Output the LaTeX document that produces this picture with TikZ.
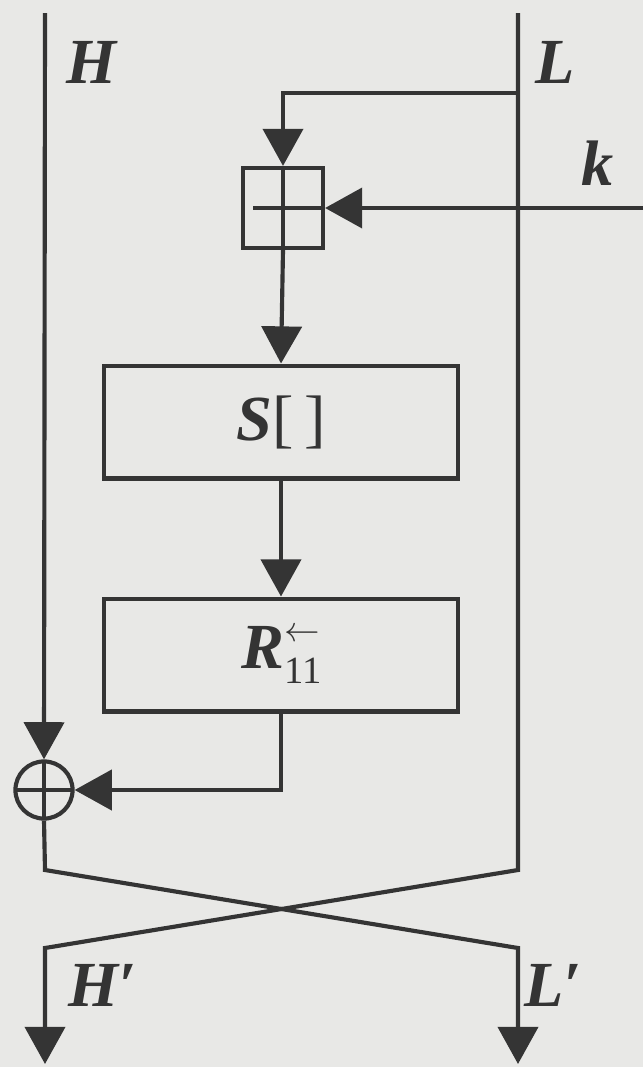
\documentclass[tikz,border=0pt]{standalone}
\usepackage{fontspec}
\setmainfont{Liberation Serif}
\usetikzlibrary{arrows.meta,positioning}

\definecolor{paper}{RGB}{232,232,230}
\definecolor{ink}{RGB}{52,52,52}

\newcommand{\bigfont}{\fontsize{45}{48}\selectfont}
\newcommand{\smallfont}{\fontsize{27}{28}\selectfont}

\tikzset{
  blk/.style={draw, minimum width=248pt, minimum height=79pt, inner sep=0pt, font=\bigfont},
  addbox/.style={draw, minimum size=56pt, inner sep=0pt,
    path picture={\draw (path picture bounding box.north) -- (path picture bounding box.south)
      ([xshift=7pt]path picture bounding box.west) -- (path picture bounding box.east);}},
  xorc/.style={draw, circle, minimum size=40pt, inner sep=0pt,
    path picture={\draw (path picture bounding box.north) -- (path picture bounding box.south)
      (path picture bounding box.west) -- (path picture bounding box.east);}},
  lbl/.style={font=\bigfont\bfseries\itshape}
}

\begin{document}
\begin{tikzpicture}[x=0.7pt, y=-0.7pt, >={Triangle[length=26pt,width=28pt]},
  line width=2.9pt, draw=ink, text=ink]

\useasboundingbox[fill=paper] (0,0) rectangle (643,1067);

% Nodes
\node[addbox] (add) at (283,208) {};
\node[blk] (sbox) at (281,422) {{\bfseries\itshape S}[\,]};
\node[blk] (rbox) at (281,655) {{\bfseries\itshape R}\raisebox{-11pt}{\smallfont\rlap{11}}\raisebox{19pt}{\smallfont$\leftarrow$}};
\node[xorc] (xor) at (44,790) {};

% Points on the wires
\coordinate (Htop) at (45,13);
\coordinate (Ltop) at (518,13);
\coordinate (Lbr) at (518,93);
\coordinate (kin) at (643,208);
\coordinate (Hc) at (45,870);
\coordinate (Lc) at (518,870);
\coordinate (Hout) at (45,948);
\coordinate (Lout) at (518,948);
\coordinate (Hend) at (45,1064);
\coordinate (Lend) at (518,1064);

% Labels
\node[lbl] (hlab) at (92,62) {H};
\node[lbl] (llab) at (555,62) {L};
\node[lbl] (klab) at (598,163) {k};
\node[lbl] (hplab) at (103,985) {H\symbol{"2032}};
\node[lbl] (lplab) at (553,985) {L\symbol{"2032}};

% Round function
\draw[->] (Lbr) -| (add.north);
\draw[->] (kin) -- (add.east);
\draw[->] (add.south) -- (sbox.north);
\draw[->] (sbox.south) -- (rbox.north);
\draw[->] (rbox.south) |- (xor.east);

% Halves and swap
\draw[->] (Htop) -- (xor.north);
\draw[->] (xor.south) -- (Hc) -- (Lout) -- (Lend);
\draw[->] (Ltop) -- (Lc) -- (Hout) -- (Hend);

\end{tikzpicture}
\end{document}
